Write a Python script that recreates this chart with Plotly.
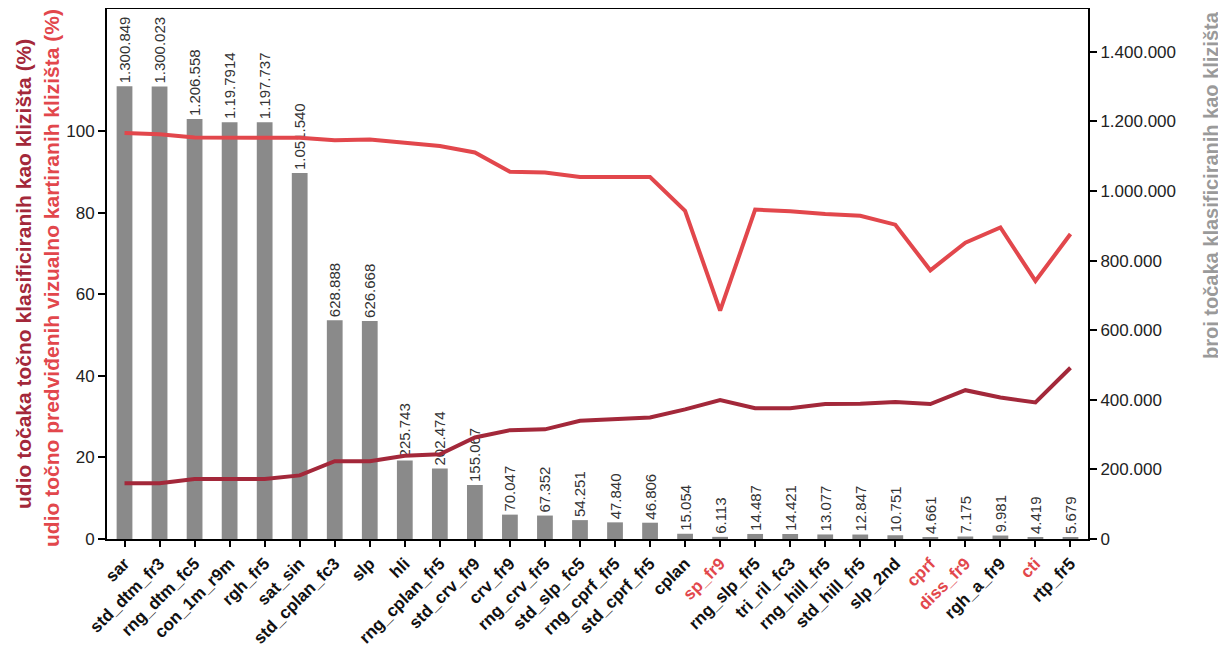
import plotly.graph_objects as go

categories = ["sar", "std_dtm_fr3", "rng_dtm_fc5", "con_1m_r9m", "rgh_fr5", "sat_sin",
              "std_cplan_fc3", "slp", "hli", "rng_cplan_fr5", "std_crv_fr9", "crv_fr9",
              "rng_crv_fr5", "std_slp_fc5", "rng_cprf_fr5", "std_cprf_fr5", "cplan", "sp_fr9",
              "rng_slp_fr5", "tri_ril_fc3", "rng_hill_fr5", "std_hill_fr5", "slp_2nd", "cprf",
              "diss_fr9", "rgh_a_fr9", "cti", "rtp_fr5"]

bar_values = [1300849, 1300023, 1206558, 1197914, 1197737, 1051540, 628888, 626668,
              225743, 202474, 155067, 70047, 67352, 54251, 47840, 46806, 15054, 6113,
              14487, 14421, 13077, 12847, 10751, 4661, 7175, 9981, 4419, 5679]

bar_labels = ["1.300.849", "1.300.023", "1.206.558", "1.19.7914", "1.197.737", "1.051.540",
              "628.888", "626.668", "225.743", "202.474", "155.067", "70.047", "67.352",
              "54.251", "47.840", "46.806", "15.054", "6.113", "14.487", "14.421", "13.077",
              "12.847", "10.751", "4.661", "7.175", "9.981", "4.419", "5.679"]

pct_visual = [99.6, 99.3, 98.5, 98.5, 98.5, 98.4, 97.8, 98.0, 97.2, 96.4, 94.8, 90.1,
              89.9, 88.8, 88.8, 88.8, 80.5, 56.0, 80.8, 80.4, 79.7, 79.3, 77.1, 65.9,
              72.7, 76.4, 63.3, 74.8]

pct_points = [13.7, 13.7, 14.7, 14.7, 14.7, 15.6, 19.1, 19.1, 20.4, 20.8, 24.9, 26.7,
              26.9, 29.0, 29.4, 29.8, 31.8, 34.1, 32.1, 32.1, 33.1, 33.2, 33.6, 33.1,
              36.5, 34.7, 33.5, 42.0]

red_categories = ["sp_fr9", "cprf", "diss_fr9", "cti"]

left_ticks = [0, 20, 40, 60, 80, 100]
right_ticks = [0, 200000, 400000, 600000, 800000, 1000000, 1200000, 1400000]
right_tick_labels = ["0", "200.000", "400.000", "600.000", "800.000", "1.000.000",
                     "1.200.000", "1.400.000"]

LIGHT_RED = "#E2474C"
DARK_RED = "#A3283A"
BAR_GRAY = "#8A8A8A"
FONT = "Arial, Liberation Sans, sans-serif"

# The page body has an 8px margin, so the figure is drawn 8px in from the corner.
OFF = 8
FIG_W, FIG_H = 1226 - OFF, 657 - OFF
L, R, T, B = 107 - OFF, 138, 9 - OFF, 118

tick_text = [
    f"<span style='color:{LIGHT_RED}'>{c}</span>" if c in red_categories else c
    for c in categories
]

fig = go.Figure()

fig.add_trace(go.Bar(
    x=categories, y=bar_values, yaxis="y",
    marker=dict(color=BAR_GRAY, line=dict(width=0)),
    width=0.45,
    text=bar_labels, textposition="outside", textangle=-90,
    constraintext="none", cliponaxis=False,
    textfont=dict(family=FONT, size=15, color="#333333"),
    showlegend=False,
))

fig.add_trace(go.Scatter(
    x=categories, y=pct_visual, yaxis="y2", mode="lines",
    line=dict(color=LIGHT_RED, width=4), showlegend=False,
))
fig.add_trace(go.Scatter(
    x=categories, y=pct_points, yaxis="y2", mode="lines",
    line=dict(color=DARK_RED, width=4), showlegend=False,
))

fig.update_layout(
    width=FIG_W, height=FIG_H,
    margin=dict(l=L, r=R, t=T, b=B),
    paper_bgcolor="white", plot_bgcolor="white",
    font=dict(family=FONT, color="#222222"),
    xaxis=dict(
        type="category", tickmode="array", tickvals=categories, ticktext=tick_text,
        tickangle=-45, tickfont=dict(family=FONT, size=17, color="#111111", weight="bold"),
        showline=True, linecolor="black", linewidth=2, mirror=True,
        ticks="outside", ticklen=6, tickwidth=1.5, tickcolor="black",
        showgrid=False, zeroline=False, automargin=False,
    ),
    yaxis=dict(
        side="right", range=[0, 1523000],
        tickmode="array", tickvals=right_ticks, ticktext=right_tick_labels,
        tickfont=dict(family=FONT, size=17, color="#222222"),
        showline=True, linecolor="black", linewidth=2,
        ticks="outside", ticklen=7, tickwidth=1.5, tickcolor="black",
        showgrid=False, zeroline=False, automargin=False,
    ),
    yaxis2=dict(
        overlaying="y", side="left", range=[0, 130],
        tickmode="array", tickvals=left_ticks,
        tickfont=dict(family=FONT, size=17, color="#222222"),
        showline=True, linecolor="black", linewidth=2,
        ticks="outside", ticklen=7, tickwidth=1.5, tickcolor="black",
        showgrid=False, zeroline=False, automargin=False,
    ),
)

plot_w = FIG_W - L - R
plot_h = FIG_H - T - B


def px_x(px):
    # px is a page pixel
    return (px - OFF - L) / plot_w


def px_y(py):
    return (FIG_H - B - (py - OFF)) / plot_h


fig.add_annotation(
    text="<b>udio točaka točno klasificiranih kao klizišta (%)</b>",
    xref="paper", yref="paper", x=px_x(23), y=px_y(274),
    xanchor="center", yanchor="middle", textangle=-90, showarrow=False,
    font=dict(family=FONT, size=21, color=DARK_RED),
)
fig.add_annotation(
    text="<b>udio točno predviđenih vizualno kartiranih klizišta (%)</b>",
    xref="paper", yref="paper", x=px_x(51), y=px_y(278),
    xanchor="center", yanchor="middle", textangle=-90, showarrow=False,
    font=dict(family=FONT, size=21, color=LIGHT_RED),
)
fig.add_annotation(
    text="<b>broj točaka klasificiranih kao klizišta</b>",
    xref="paper", yref="paper", x=px_x(1211), y=px_y(185),
    xanchor="center", yanchor="middle", textangle=-90, showarrow=False,
    font=dict(family=FONT, size=20, color="#9A9A9A"),
)

fig.write_html("out.html")
